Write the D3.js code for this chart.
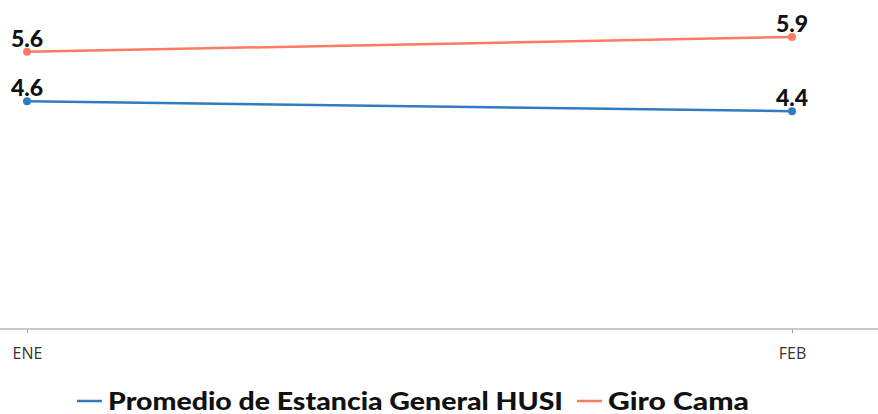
<!DOCTYPE html>
<html lang="en">
<head>
    <meta charset="UTF-8">
    <title>Estancia</title>
    <script src="https://cdn.jsdelivr.net/npm/d3@7"></script>
    <style>
        html, body {
            margin: 0;
            padding: 0;
            width: 100%;
            height: 100%;
            overflow: hidden;
            background: #fff;
        }
    </style>
</head>
<body>
</body>
<script>
    let width = 878;
    let height = 414;

    // datos
    let months = ['ENE', 'FEB'];
    let estancia = [4.6, 4.4];
    let giroCama = [5.6, 5.9];
    let seriesNames = ['Promedio de Estancia General HUSI', 'Giro Cama'];
    let seriesColors = ['#2f7cc0', '#ff7a62'];

    let series = [estancia, giroCama];

    let svg = d3.select('body').append('svg')
        .attr('width', width)
        .attr('height', height);

    let x = d3.scalePoint()
        .domain(months)
        .range([27, 792]);

    let y = d3.scaleLinear()
        .domain([0, 7])
        .range([329, 329 - 7 * 49.5]);

    // eje x
    let gx = svg.append('g')
        .attr('transform', 'translate(0,329)')
        .call(d3.axisBottom(x).tickSize(4).tickPadding(15));
    gx.select('.domain').remove();
    gx.selectAll('.tick line').attr('stroke', '#9a9a9a');
    gx.selectAll('.tick text')
        .attr('font-family', '"Open Sans", sans-serif')
        .attr('font-size', 16)
        .attr('fill', '#333');
    svg.append('line')
        .attr('x1', 0).attr('x2', width)
        .attr('y1', 329).attr('y2', 329)
        .attr('stroke', '#c8c8c8')
        .attr('stroke-width', 2);

    let line = d3.line()
        .x((d, i) => x(months[i]))
        .y(d => y(d));

    let gSeries = svg.selectAll('g.series')
        .data(series)
        .enter().append('g')
        .classed('series', true);

    gSeries.append('path')
        .attr('d', line)
        .attr('fill', 'none')
        .attr('stroke', (d, i) => seriesColors[i])
        .attr('stroke-width', 2.5);

    gSeries.each(function (vals, si) {
        let g = d3.select(this);
        g.selectAll('circle')
            .data(vals)
            .enter().append('circle')
            .attr('cx', (d, i) => x(months[i]))
            .attr('cy', d => y(d))
            .attr('r', 4)
            .attr('fill', seriesColors[si]);
        g.selectAll('text')
            .data(vals)
            .enter().append('text')
            .attr('x', (d, i) => x(months[i]))
            .attr('y', d => y(d) - 5)
            .attr('text-anchor', 'middle')
            .attr('font-family', 'Lato, sans-serif')
            .attr('font-weight', 900)
            .attr('font-size', 23)
            .attr('fill', '#111')
            .text(d => d3.format('.1f')(d));
    });

    // leyenda
    let legendX = [77, 577];
    let legendW = [455, 141];
    let legend = svg.selectAll('g.legend')
        .data(seriesNames)
        .enter().append('g')
        .classed('legend', true)
        .attr('transform', (d, i) => `translate(${legendX[i]},401)`);
    legend.append('line')
        .attr('x1', 0).attr('x2', 25)
        .attr('stroke', (d, i) => seriesColors[i])
        .attr('stroke-width', 2.5);
    legend.append('text')
        .attr('x', 31)
        .attr('dy', '0.36em')
        .attr('font-family', 'Lato, sans-serif')
        .attr('font-weight', 900)
        .attr('font-size', 25)
        .attr('textLength', (d, i) => legendW[i])
        .attr('lengthAdjust', 'spacingAndGlyphs')
        .attr('fill', '#111')
        .text(d => d);
</script>
</html>
